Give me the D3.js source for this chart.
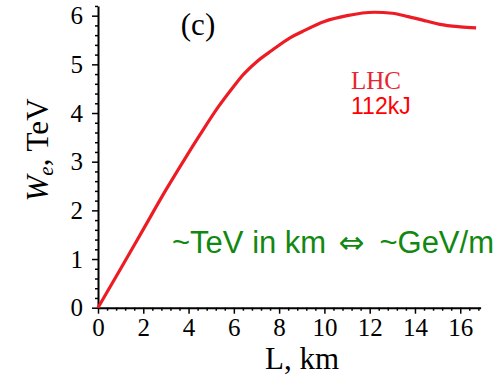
<!DOCTYPE html>
<html>
<head>
<meta charset="utf-8">
<script src="https://cdn.jsdelivr.net/npm/d3@7"></script>
<style>
  body { margin: 0; background: #fff; }
  svg { display: block; }
</style>
</head>
<body>
<svg id="chart" width="499" height="379"></svg>
<script>
// curve: L in km, W_e in TeV
var lengthKm = [0, 1, 2, 3, 3.85, 4.5, 5.32, 6, 6.36, 7, 7.69, 8.5, 9.01, 10, 11, 12.2, 13, 13.7, 14.5, 15.1, 16, 16.7];
var energyTeV = [0, 0.80, 1.61, 2.42, 3.07, 3.55, 4.13, 4.55, 4.76, 5.05, 5.29, 5.55, 5.67, 5.88, 6.0, 6.07, 6.05, 5.98, 5.89, 5.82, 5.77, 5.75];
var xTicks = [0, 2, 4, 6, 8, 10, 12, 14, 16];
var yTicks = [0, 1, 2, 3, 4, 5, 6];

var svg = d3.select("#chart"),
    left = 98,
    bottom = 307.7;

var x = d3.scaleLinear().domain([0, 16.9]).range([left, left + 16.9 * 22.64]);
var y = d3.scaleLinear().domain([0, 6.2]).range([bottom, bottom - 6.2 * 48.67]);

var serif = "'Liberation Serif', 'Times New Roman', serif";
var sans = "'Liberation Sans', Arial, sans-serif";

// minor ticks first
var xMinor = d3.range(0, 16.81, 0.4).filter(function (v) { return Math.abs(v / 2 - Math.round(v / 2)) > 1e-6; });
var yMinor = d3.range(0, 6.21, 0.2).filter(function (v) { return Math.abs(v - Math.round(v)) > 1e-6; });

svg.append("g")
    .attr("transform", "translate(0," + bottom + ")")
    .call(d3.axisBottom(x).tickValues(xMinor).tickSize(3).tickFormat(""))
    .call(function (g) { g.select(".domain").remove(); g.selectAll("line").attr("stroke-width", 1.5); });

svg.append("g")
    .attr("transform", "translate(" + left + ",0)")
    .call(d3.axisLeft(y).tickValues(yMinor).tickSize(3).tickFormat(""))
    .call(function (g) { g.select(".domain").remove(); g.selectAll("line").attr("stroke-width", 1.5); });

// major axes
var xAxis = svg.append("g")
    .attr("transform", "translate(0," + bottom + ")")
    .call(d3.axisBottom(x).tickValues(xTicks).tickFormat(d3.format("d"))
        .tickSizeInner(6).tickSizeOuter(0).tickPadding(5));
xAxis.attr("font-family", serif).attr("font-size", 25);
xAxis.select(".domain").attr("stroke-width", 2);
xAxis.selectAll("line").attr("stroke-width", 1.5);
xAxis.selectAll("text").attr("fill", "#000");

var yAxis = svg.append("g")
    .attr("transform", "translate(" + left + ",0)")
    .call(d3.axisLeft(y).tickValues(yTicks).tickFormat(d3.format("d"))
        .tickSizeInner(6).tickSizeOuter(0).tickPadding(9));
yAxis.attr("font-family", serif).attr("font-size", 25);
yAxis.select(".domain").attr("stroke-width", 2);
yAxis.selectAll("line").attr("stroke-width", 1.5);
yAxis.selectAll("text").attr("fill", "#000");

// curve
var line = d3.line()
    .x(function (d, i) { return x(lengthKm[i]); })
    .y(function (d) { return y(d); })
    .curve(d3.curveMonotoneX);

svg.append("path")
    .datum(energyTeV)
    .attr("d", line)
    .attr("fill", "none")
    .attr("stroke", "#ed1c24")
    .attr("stroke-width", 3.2);

// axis titles
svg.append("text")
    .attr("x", 265).attr("y", 369)
    .attr("font-family", serif).attr("font-size", 31)
    .text("L, km");

var yt = svg.append("text")
    .attr("transform", "translate(48,150) rotate(-90)")
    .attr("text-anchor", "middle")
    .attr("font-family", serif).attr("font-size", 31);
yt.append("tspan").attr("font-style", "italic").text("W");
yt.append("tspan").attr("font-style", "italic").attr("font-size", 21).attr("dy", 5).text("e");
yt.append("tspan").attr("dy", -5).text(", TeV");

// annotations
svg.append("text")
    .attr("x", 198).attr("y", 35)
    .attr("text-anchor", "middle")
    .attr("font-family", serif).attr("font-size", 31)
    .text("(c)");

svg.append("text")
    .attr("x", 351).attr("y", 89)
    .attr("font-family", serif).attr("font-size", 25)
    .attr("fill", "#e8262f")
    .text("LHC");

svg.append("text")
    .attr("x", 351).attr("y", 114)
    .attr("font-family", sans).attr("font-size", 23)
    .attr("fill", "#ff0000")
    .text("112kJ");

var note = svg.append("text")
    .attr("x", 172).attr("y", 253)
    .attr("font-family", sans).attr("font-size", 31)
    .attr("fill", "#118811");
note.append("tspan").text("~TeV in km ");
note.append("tspan").attr("dx", 4).attr("font-family", "'DejaVu Sans'").attr("font-size", 31).text("\u21D4");
note.append("tspan").attr("dx", 6).text(" ~GeV/m");
</script>
</body>
</html>
